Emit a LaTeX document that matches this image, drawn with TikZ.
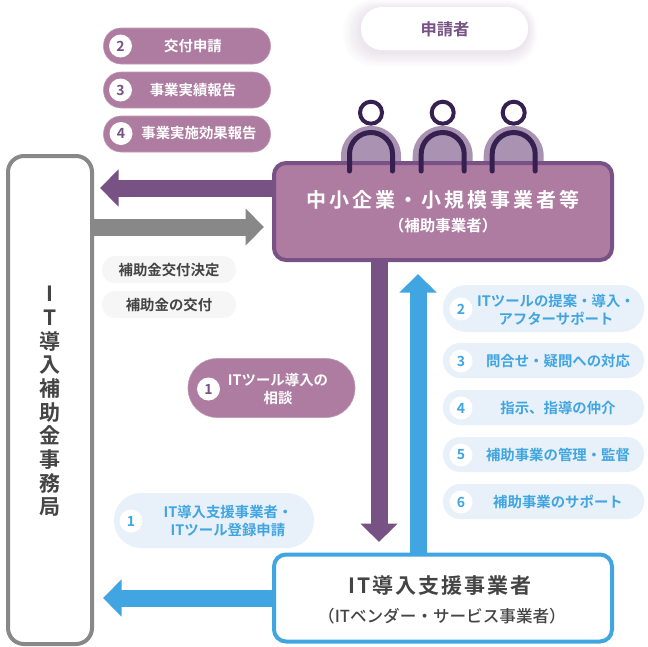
\documentclass[tikz,border=0pt]{standalone}
\usepackage{fontspec}
\setmainfont{Noto Sans CJK JP}[BoldFont={Noto Sans CJK JP Bold}]
\newfontfamily\medfont{Noto Sans CJK JP Medium}
\usetikzlibrary{arrows.meta}
\definecolor{plum}{HTML}{AE7BA1}
\definecolor{plumdark}{HTML}{785284}
\definecolor{plumhalo}{HTML}{AA92B2}
\definecolor{ink}{HTML}{35204F}
\definecolor{sky}{HTML}{40A5E0}
\definecolor{skypale}{HTML}{E8F1F9}
\definecolor{greyline}{HTML}{888888}
\definecolor{greytext}{HTML}{444444}
\definecolor{greypale}{HTML}{F6F6F6}
\tikzset{
    pill/.style={minimum width=#1, inner sep=0pt, outer sep=0pt},
    plumpill/.style={pill=167pt, fill=plum, draw=plum!75!white, line width=0.6pt, minimum height=36pt, rounded corners=17.5pt},
    bluepill/.style={pill=201pt, fill=skypale, minimum height=35pt, rounded corners=17pt},
    greypill/.style={pill=134pt, fill=greypale, minimum height=27pt, rounded corners=13pt},
    num/.style={circle, fill=white, minimum size=23pt, inner sep=0pt, font=\fontsize{14}{14}\selectfont\bfseries},
    lbl/.style={inner sep=0pt, align=center, font=\fontsize{14.4}{18}\selectfont\bfseries},
    bigbox/.style={minimum width=338pt, inner sep=0pt, outer sep=2pt, line width=4pt, rounded corners=12pt},
    flow/.style={line width=17pt, -{Triangle[length=18.5pt,width=36pt]}},
}
\begin{document}
\begin{tikzpicture}[x=1pt,y=-1pt]
    \useasboundingbox (0,0) rectangle (648,646);
    % applicant pill with its soft shadow
    \foreach \g in {1,...,9}
        \fill[plumdark, opacity=0.016, rounded corners=21pt+\g pt] (361-2*\g,9-\g) rectangle (528+\g,52+1.6*\g);
    \node[pill=167pt, fill=white, minimum height=43pt, rounded corners=21pt] (applicant) at (444.5,28.5) {};
    \node[inner sep=0pt, text=plumdark, font=\fontsize{16.3}{16.3}\selectfont\bfseries] (applicanttxt) at (445,29) {申請者};
    % people behind the top box
    \foreach \x in {371,442.7,513.7}
        \fill[plumhalo] (\x-30,170) -- (\x-30,156) arc[start angle=180, end angle=360, radius=30] -- (\x+30,170) -- cycle;
    % left column
    \node[draw=greyline, fill=white, line width=4pt, minimum width=84pt, minimum height=488pt, inner sep=0pt, outer sep=2pt, rounded corners=16pt] (office) at (50,400) {};
    \node[inner sep=0pt, align=center, text=greytext, font=\fontsize{21}{23.7}\selectfont\bfseries] (officetxt) at (50,401.5) {I\\T\\導\\入\\補\\助\\金\\事\\務\\局};
    % the two main boxes
    \node[bigbox, draw=plumdark, fill=plum, minimum height=97pt] (sme) at (443,211.5) {};
    \node[bigbox, draw=sky, fill=white, minimum height=87pt] (vendor) at (443,598) {};
    \node[inner sep=0pt, text=white, font=\fontsize{20}{20}\selectfont\bfseries\addfontfeature{LetterSpace=15}] (smetxt) at (443,200) {中小企業・小規模事業者等};
    \node[inner sep=0pt, text=white, font=\fontsize{15.5}{15.5}\selectfont\bfseries] (smesub) at (443,226) {（補助事業者）};
    \node[inner sep=0pt, text=greytext, font=\fontsize{21}{21}\selectfont\bfseries\addfontfeature{LetterSpace=10}] (vendortxt) at (440,586) {IT導入支援事業者};
    \node[inner sep=0pt, text=greytext, font=\fontsize{16.6}{16.6}\selectfont\medfont] (vendorsub) at (442,616) {（ITベンダー・サービス事業者）};
    % people in front
    \foreach \x in {371,442.7,513.7} {
        \draw[ink, line width=4pt] (\x,112.7) circle (11pt);
        \draw[ink, line width=5pt, line cap=round] (\x-21.5,171) -- (\x-21.5,154) arc[start angle=180, end angle=360, radius=21.5] -- (\x+21.5,171);
    }
    % arrows
    \coordinate (officeup) at (100,188);
    \coordinate (smein) at (264,227);
    \coordinate (vendorin) at (379,542);
    \coordinate (smeback) at (418,274);
    \coordinate (officedown) at (103,598);
    \draw[flow, plumdark] (sme.west |- officeup) -- (officeup);
    \draw[flow, greyline] (office.east |- smein) -- (smein);
    \draw[flow, plumdark] (sme.south -| vendorin) -- (vendorin);
    \draw[flow, sky] (vendor.north -| smeback) -- (smeback);
    \draw[flow, sky] (vendor.west |- officedown) -- (officedown);
    % plum pills
    \node[plumpill] (apply) at (187,46) {};
    \node[num, text=plumdark] (applynum) at (120.5,46) {2};
    \node[lbl, text=white] (applytxt) at (193,46) {交付申請};
    \node[plumpill] (report) at (187,90) {};
    \node[num, text=plumdark] (reportnum) at (120.5,90) {3};
    \node[lbl, text=white] (reporttxt) at (193,90) {事業実績報告};
    \node[plumpill] (effect) at (187,134) {};
    \node[num, text=plumdark] (effectnum) at (121,133.5) {4};
    \node[lbl, text=white] (effecttxt) at (199,133.5) {事業実施効果報告};
    \node[plumpill, minimum height=59pt, rounded corners=29pt] (consult) at (271.5,388) {};
    \node[num, text=plumdark] (consultnum) at (208.5,389) {1};
    \node[lbl, text=white] (consulttxt) at (278,389) {ITツール導入の\\相談};
    % grey pills
    \node[greypill] (decide) at (169,269.5) {};
    \node[lbl, text=greytext] (decidetxt) at (169,270) {補助金交付決定};
    \node[greypill] (grant) at (169,304.5) {};
    \node[lbl, text=greytext] (granttxt) at (169,305) {補助金の交付};
    % blue pills
    \node[bluepill, minimum height=47pt, rounded corners=23pt] (propose) at (543.5,308.5) {};
    \node[num, text=sky] (proposenum) at (461,309) {2};
    \node[lbl, text=sky] (proposetxt) at (556,310) {ITツールの提案・導入・\\アフターサポート};
    \node[bluepill] (ask) at (543.5,360.5) {};
    \node[num, text=sky] (asknum) at (461,361) {3};
    \node[lbl, text=sky] (asktxt) at (558,361) {問合せ・疑問への対応};
    \node[bluepill] (guide) at (543.5,407.5) {};
    \node[num, text=sky] (guidenum) at (461,408) {4};
    \node[lbl, text=sky] (guidetxt) at (558,408) {指示、指導の仲介};
    \node[bluepill] (manage) at (543.5,454.5) {};
    \node[num, text=sky] (managenum) at (461,455) {5};
    \node[lbl, text=sky] (managetxt) at (558,455) {補助事業の管理・監督};
    \node[bluepill] (support) at (543.5,501.5) {};
    \node[num, text=sky] (supportnum) at (461,502) {6};
    \node[lbl, text=sky] (supporttxt) at (558,502) {補助事業のサポート};
    \node[bluepill, minimum width=200pt, minimum height=55pt, rounded corners=27pt] (register) at (214,520.5) {};
    \node[num, text=sky] (registernum) at (131,521) {1};
    \node[lbl, text=sky] (registertxt) at (228,521) {IT導入支援事業者・\\ITツール登録申請};
\end{tikzpicture}
\end{document}
